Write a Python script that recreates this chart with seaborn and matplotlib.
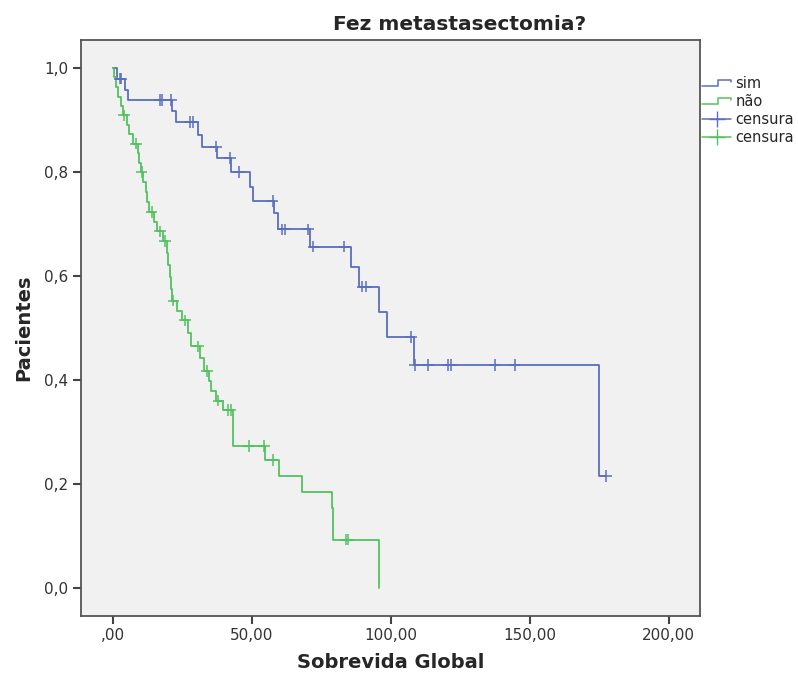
import numpy as np
import pandas as pd
import matplotlib
matplotlib.use("Agg")
import matplotlib.pyplot as plt
import seaborn as sns
from matplotlib.lines import Line2D
from matplotlib.legend_handler import HandlerLine2D

# ---------------- data ----------------
title = "Fez metastasectomia?"
x_label = "Sobrevida Global"
y_label = "Pacientes"
groups = ["sim", "não"]
censor_label = "censura"

sim_event_times = [1.5, 4.4, 5.6, 21.5, 22.8, 30.8, 32.0, 37.4, 42.6, 49.4, 50.5,
                   58.0, 59.5, 70.9, 85.6, 88.6, 95.8, 98.6, 108.5, 175.0]
sim_survival = [0.980, 0.958, 0.939, 0.917, 0.897, 0.872, 0.849, 0.827, 0.800, 0.772,
                0.745, 0.721, 0.690, 0.657, 0.618, 0.580, 0.531, 0.483, 0.429, 0.216]
sim_censor_times = [2.5, 3.0, 17.0, 17.8, 20.9, 27.8, 29.0, 37.2, 42.2, 45.5, 57.5,
                    61.0, 62.0, 70.4, 72.2, 83.3, 89.8, 91.1, 107.3, 108.7, 113.3,
                    120.7, 121.6, 137.3, 144.5, 177.4]

nao_event_times = [0.5, 1.2, 2.0, 3.0, 3.8, 5.0, 6.0, 7.2, 9.0, 9.6,
                   10.2, 11.0, 11.8, 12.5, 13.2, 15.0, 16.0, 18.0, 19.5, 20.0,
                   20.5, 21.0, 21.5, 23.0, 25.0, 27.0, 28.3, 31.5, 33.0, 34.5,
                   35.5, 37.0, 39.5, 43.4, 54.9, 59.8, 68.2, 78.8, 79.4, 95.7]
nao_survival = [0.982, 0.964, 0.945, 0.927, 0.909, 0.891, 0.873, 0.855, 0.836, 0.818,
                0.800, 0.781, 0.762, 0.743, 0.724, 0.705, 0.686, 0.668, 0.645, 0.622,
                0.599, 0.576, 0.553, 0.534, 0.515, 0.490, 0.465, 0.442, 0.418, 0.398,
                0.380, 0.361, 0.343, 0.274, 0.247, 0.216, 0.185, 0.154, 0.094, 0.0]
nao_censor_times = [4.1, 8.4, 10.4, 14.0, 17.0, 18.8, 21.8, 26.0, 30.8, 33.8, 38.0,
                    41.6, 42.4, 49.1, 54.3, 57.5, 83.8, 84.7]

x_ticks = [0, 50, 100, 150, 200]
x_tick_labels = [",00", "50,00", "100,00", "150,00", "200,00"]
y_ticks = [0.0, 0.2, 0.4, 0.6, 0.8, 1.0]
y_tick_labels = ["0,0", "0,2", "0,4", "0,6", "0,8", "1,0"]

colors = {"sim": "#5a6fbd", "não": "#52c25f"}

# ---------------- build tables ----------------
def step_table(name, times, surv, censors):
    xs = [0.0] + list(times)
    ys = [1.0] + list(surv)
    if max(censors) > xs[-1]:
        xs.append(max(censors))
        ys.append(ys[-1])
    return pd.DataFrame({"time": xs, "surv": ys, "group": name})

def censor_table(name, times, surv, censors):
    levels = np.array([1.0] + list(surv))
    idx = np.searchsorted(np.array(times), np.array(censors), side="right")
    return pd.DataFrame({"time": censors, "surv": levels[idx], "group": name})

lines_df = pd.concat([
    step_table("sim", sim_event_times, sim_survival, sim_censor_times),
    step_table("não", nao_event_times, nao_survival, nao_censor_times),
], ignore_index=True)
cens_df = pd.concat([
    censor_table("sim", sim_event_times, sim_survival, sim_censor_times),
    censor_table("não", nao_event_times, nao_survival, nao_censor_times),
], ignore_index=True)

# ---------------- plot ----------------
sns.set_theme(style="ticks")
plt.rcParams["font.family"] = ["DejaVu Sans"]

fig = plt.figure(figsize=(7.98, 6.75), dpi=100)
ax = fig.add_axes([81 / 798, 1 - 616 / 675, (700 - 81) / 798, (616 - 40) / 675])
ax.set_facecolor("#f1f1f1")

sns.lineplot(data=lines_df, x="time", y="surv", hue="group", palette=colors,
             drawstyle="steps-post", estimator=None, sort=False, legend=False,
             linewidth=1.3, ax=ax)
sns.scatterplot(data=cens_df, x="time", y="surv", hue="group", palette=colors,
                marker="+", s=70, linewidth=1.1, legend=False, ax=ax, zorder=3)

ax.set_xlim(-11.4, 211.2)
ax.set_ylim(-0.053, 1.054)
ax.set_xticks(x_ticks)
ax.set_xticklabels(x_tick_labels)
ax.set_yticks(y_ticks)
ax.set_yticklabels(y_tick_labels)
ax.tick_params(axis="both", direction="out", length=6, width=1.5, colors="#444444",
               labelsize=11, labelcolor="#333333", pad=3)
for sp in ax.spines.values():
    sp.set_visible(True)
    sp.set_color("#555555")
    sp.set_linewidth(1.3)

ax.set_xlabel(x_label, fontsize=14, fontweight="bold", labelpad=7)
ax.set_ylabel(y_label, fontsize=14, fontweight="bold", labelpad=8)
fig.text(460 / 798, 1 - 24 / 675, title, fontsize=14.5, fontweight="bold",
         ha="center", va="center")


class HandlerStep(HandlerLine2D):
    def create_artists(self, legend, orig_handle, xdescent, ydescent, width,
                       height, fontsize, trans):
        x0 = -xdescent
        y0 = -ydescent
        xs = [x0, x0 + width * 0.55, x0 + width * 0.55, x0 + width, x0 + width]
        ys = [y0 + height * 0.15, y0 + height * 0.15, y0 + height * 0.8,
              y0 + height * 0.8, y0 + height * 0.55]
        ln = Line2D(xs, ys, color=orig_handle.get_color(), lw=1.1)
        ln.set_transform(trans)
        return [ln]


h_sim = Line2D([], [], color=colors["sim"])
h_nao = Line2D([], [], color=colors["não"])
h_cs = Line2D([0], [0], color=colors["sim"], marker="+", markersize=12, lw=1.1)
h_cn = Line2D([0], [0], color=colors["não"], marker="+", markersize=12, lw=1.1)
fig.legend([h_sim, h_nao, h_cs, h_cn], [groups[0], groups[1], censor_label, censor_label],
           handler_map={h_sim: HandlerStep(), h_nao: HandlerStep()},
           loc="upper left", bbox_to_anchor=(702 / 798, 1 - 76 / 675),
           frameon=False, fontsize=10.5, handlelength=2.0, handletextpad=0.3,
           labelspacing=0.2, borderpad=0, borderaxespad=0)

fig.savefig("out.png", dpi=100, facecolor="white")
